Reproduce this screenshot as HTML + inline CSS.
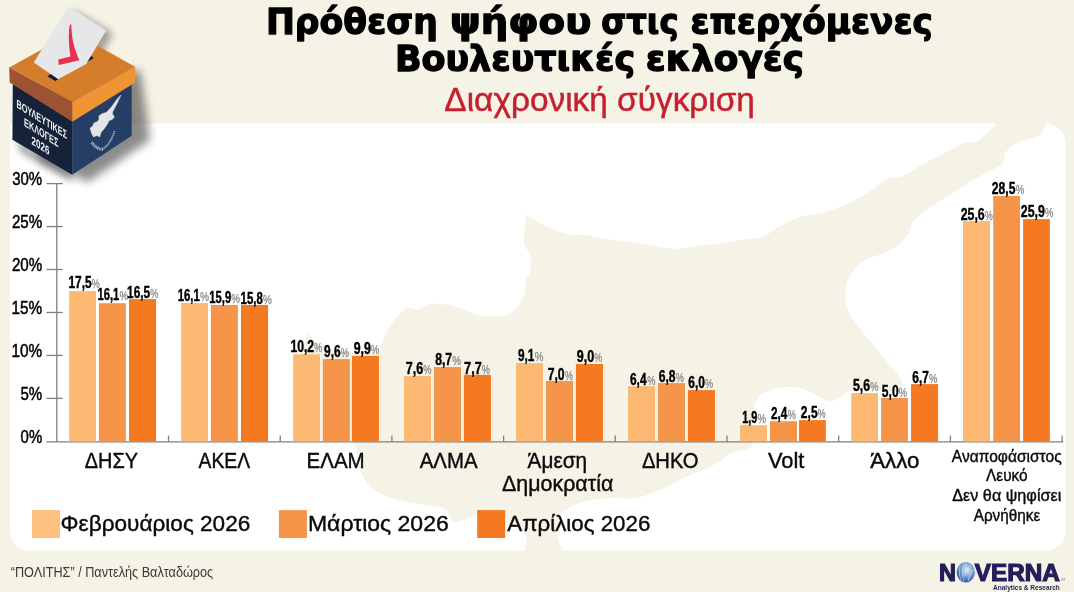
<!DOCTYPE html>
<html lang="el"><head><meta charset="utf-8"><title>Πρόθεση ψήφου στις επερχόμενες Βουλευτικές εκλογές</title>
<style>html,body{margin:0;padding:0;background:#f5f2e6;}body{width:1074px;height:592px;overflow:hidden;}svg{display:block;}</style></head><body>
<svg width="1074" height="592" viewBox="0 0 1074 592" font-family="'Liberation Sans', 'DejaVu Sans', sans-serif">
<defs>
<filter id="sh" x="-30%" y="-30%" width="160%" height="160%"><feGaussianBlur stdDeviation="5"/></filter>
<filter id="sh2" x="-30%" y="-30%" width="160%" height="160%"><feGaussianBlur stdDeviation="3.5"/></filter>
<radialGradient id="gl" cx="0.58" cy="0.38" r="0.66"><stop offset="0" stop-color="#e6eef8"/><stop offset="0.4" stop-color="#8fb0dc"/><stop offset="0.8" stop-color="#3f6db5"/><stop offset="1" stop-color="#1f4f9f"/></radialGradient>
</defs>
<rect width="1074" height="592" fill="#f5f2e6"/>
<path d="M10 123.6H1045.5a20 20 0 0 1 20 20V530.7a20 20 0 0 1 -20 20H30a20 20 0 0 1 -20 -20Z" fill="#fff"/>
<path d="M526.5 562.0 C520.2 558.3 526.9 545.0 526.5 540.0 C526.1 535.0 525.9 534.8 524.0 532.0 C522.1 529.2 519.8 525.5 515.0 523.0 C510.2 520.5 501.5 518.3 495.0 517.0 C488.5 515.7 480.2 515.2 476.0 515.3 C471.8 515.4 472.9 516.6 469.6 517.7 C466.3 518.8 459.1 521.8 456.0 522.0 C452.9 522.2 452.6 521.0 451.0 519.0 C449.4 517.0 448.9 512.3 446.5 510.2 C444.1 508.1 442.4 507.8 436.8 506.6 C431.2 505.4 420.7 504.6 412.6 503.0 C404.5 501.4 394.4 498.9 388.4 496.9 C382.3 494.9 380.3 493.8 376.3 490.8 C372.3 487.8 367.2 483.1 364.2 478.7 C361.2 474.3 360.0 470.2 358.2 464.2 C356.4 458.1 357.2 446.0 353.3 442.4 C349.4 438.8 340.9 443.2 335.0 442.5 C329.1 441.8 323.0 441.8 318.0 438.0 C313.0 434.2 308.3 428.0 305.0 420.0 C301.7 412.0 298.8 400.0 298.0 390.0 C297.2 380.0 298.9 368.0 300.0 360.0 C301.1 352.0 303.2 346.5 304.5 342.0 C305.8 337.5 307.5 333.0 307.5 333.0 C307.5 333.0 308.8 335.3 310.5 337.0 C312.2 338.7 314.8 341.0 318.0 343.0 C321.2 345.0 324.7 347.5 330.0 349.0 C335.3 350.5 343.7 351.8 350.0 352.0 C356.3 352.2 362.9 351.0 368.0 350.0 C373.1 349.0 377.5 348.4 380.3 346.0 C383.1 343.6 382.4 339.6 384.6 335.5 C386.8 331.4 390.2 325.7 393.4 321.3 C396.6 316.9 401.6 311.2 404.0 309.0 C406.4 306.8 405.0 307.7 407.5 307.8 C410.0 307.9 415.1 310.1 419.0 309.5 C422.9 308.9 426.2 304.8 431.0 304.0 C435.8 303.2 442.3 304.0 448.0 305.0 C453.7 306.0 460.5 308.5 465.0 310.0 C469.5 311.5 470.0 312.9 475.0 314.0 C480.0 315.1 489.3 316.6 495.0 316.6 C500.7 316.6 505.0 315.9 509.0 314.0 C513.0 312.1 516.3 309.2 519.0 305.5 C521.7 301.8 523.8 296.4 525.0 292.0 C526.2 287.6 525.4 282.3 526.4 279.0 C527.4 275.7 530.4 274.3 531.0 272.0 C531.6 269.7 529.9 267.6 530.0 265.0 C530.1 262.4 532.3 259.7 531.5 256.5 C530.7 253.3 526.2 248.8 525.0 246.0 C523.8 243.2 524.0 243.2 524.0 240.0 C524.0 236.8 524.6 231.2 525.0 227.0 C525.4 222.8 526.4 215.0 526.4 215.0 C526.4 215.0 537.1 221.6 542.6 224.4 C548.1 227.2 553.9 230.2 559.5 232.0 C565.1 233.8 572.1 234.5 576.4 235.0 C580.6 235.5 579.4 234.2 585.0 235.0 C590.6 235.8 600.2 238.1 610.0 239.6 C619.8 241.1 633.6 242.5 644.0 244.0 C654.4 245.5 663.3 248.4 672.6 248.7 C681.9 249.0 692.6 246.6 700.0 245.7 C707.4 244.8 709.8 244.4 717.0 243.4 C724.2 242.4 735.5 240.8 743.0 239.7 C750.5 238.6 756.3 238.9 762.0 237.0 C767.7 235.1 770.8 231.3 777.0 228.0 C783.2 224.7 790.3 220.2 799.0 217.4 C807.7 214.6 819.7 213.9 829.0 211.0 C838.3 208.1 847.7 203.7 855.0 200.0 C862.3 196.3 867.5 192.6 873.0 189.0 C878.5 185.4 883.0 180.9 888.0 178.7 C893.0 176.5 896.8 178.4 903.0 175.8 C909.2 173.2 917.0 167.3 925.0 163.0 C933.0 158.7 944.8 153.3 951.0 150.0 C957.2 146.7 958.2 144.8 962.5 143.4 C966.8 142.0 972.9 143.3 977.0 141.6 C981.1 139.9 983.8 135.8 987.0 133.0 C990.2 130.2 993.3 127.5 996.0 124.5 C998.7 121.5 993.7 116.6 1003.0 115.0 C1012.3 113.4 1044.8 113.4 1052.0 115.0 C1059.2 116.6 1048.2 121.2 1046.0 124.5 C1043.8 127.8 1044.2 131.8 1039.0 135.0 C1033.8 138.2 1020.7 140.9 1015.0 144.0 C1009.3 147.1 1006.9 150.3 1005.0 153.5 C1003.1 156.7 1004.9 160.6 1003.4 163.0 C1001.9 165.4 1000.9 165.2 996.0 168.0 C991.1 170.8 982.0 174.8 974.0 179.5 C966.0 184.2 956.7 190.4 948.0 196.0 C939.3 201.6 928.0 208.3 922.0 213.0 C916.0 217.7 914.2 220.7 912.0 224.0 C909.8 227.3 911.2 229.6 909.0 233.0 C906.8 236.4 903.1 241.2 899.0 244.5 C894.9 247.8 890.0 250.5 884.5 253.0 C879.0 255.5 870.9 256.8 866.0 259.4 C861.1 262.0 858.2 264.7 855.0 268.7 C851.8 272.7 848.1 278.7 846.5 283.6 C844.9 288.6 845.0 293.5 845.4 298.4 C845.8 303.3 847.4 309.1 849.0 313.0 C850.6 316.9 853.0 319.2 855.0 322.0 C857.0 324.8 858.1 326.6 860.8 330.0 C863.5 333.4 867.6 338.1 871.0 342.2 C874.4 346.2 877.6 350.1 881.0 354.3 C884.4 358.5 888.5 363.7 891.5 367.4 C894.5 371.1 897.1 373.3 899.0 376.4 C900.9 379.5 903.4 383.5 902.7 386.0 C902.0 388.5 898.8 390.8 895.0 391.5 C891.2 392.2 885.0 391.0 880.0 390.5 C875.0 390.0 869.8 388.7 865.0 388.5 C860.2 388.3 854.6 388.7 851.3 389.5 C848.0 390.3 847.5 392.0 845.3 393.5 C843.1 395.0 840.2 397.4 837.9 398.7 C835.5 399.9 833.4 400.9 831.2 401.0 C829.0 401.1 827.1 400.5 824.5 399.5 C821.9 398.5 818.5 396.5 815.5 395.0 C812.5 393.5 810.1 391.8 806.6 390.5 C803.1 389.2 798.7 387.8 794.7 387.3 C790.7 386.8 786.5 387.2 782.8 387.6 C779.1 388.0 775.3 389.1 772.3 389.8 C769.3 390.5 767.1 390.8 764.9 392.0 C762.7 393.2 760.6 395.1 758.9 397.2 C757.2 399.3 755.6 401.7 754.5 404.7 C753.4 407.7 752.9 410.8 752.5 415.0 C752.1 419.2 752.0 425.3 752.0 430.0 C752.0 434.7 753.1 440.4 752.7 443.3 C752.3 446.2 751.6 446.4 749.4 447.7 C747.2 449.0 743.0 449.9 739.5 451.0 C736.0 452.1 731.4 452.9 728.5 454.3 C725.6 455.8 725.1 457.6 722.0 459.7 C718.9 461.8 714.1 464.8 709.8 466.9 C705.5 469.0 700.9 470.6 696.4 472.5 C691.9 474.4 687.5 475.8 683.0 478.0 C678.5 480.2 673.7 483.8 669.6 485.9 C665.5 487.9 663.2 488.4 658.4 490.3 C653.6 492.2 645.4 495.7 640.6 497.0 C635.8 498.3 635.0 498.0 629.4 498.2 C623.8 498.4 614.5 497.6 607.0 498.2 C599.5 498.8 591.4 499.6 584.7 501.5 C578.0 503.4 571.1 506.3 566.8 509.3 C562.5 512.3 560.7 515.9 559.0 519.4 C557.3 522.9 556.8 526.9 556.8 530.6 C556.8 534.3 558.1 538.4 559.0 541.7 C559.9 545.1 561.5 547.3 562.3 550.7 C563.1 554.1 570.0 560.1 564.0 562.0 C558.0 563.9 532.8 565.7 526.5 562.0Z" fill="#f5f2e6"/>
<text x="265.94" y="34.15" font-size="35.80" font-family="'DejaVu Sans', 'Liberation Sans', sans-serif" font-weight="bold" textLength="171.90" lengthAdjust="spacingAndGlyphs" fill="#000" stroke="#000" stroke-width="1.30" stroke-linejoin="round">Πρόθεση</text>
<text x="450.03" y="34.15" font-size="35.80" font-family="'DejaVu Sans', 'Liberation Sans', sans-serif" font-weight="bold" textLength="141.27" lengthAdjust="spacingAndGlyphs" fill="#000" stroke="#000" stroke-width="1.30" stroke-linejoin="round">ψήφου</text>
<text x="601.16" y="34.15" font-size="35.80" font-family="'DejaVu Sans', 'Liberation Sans', sans-serif" font-weight="bold" textLength="77.42" lengthAdjust="spacingAndGlyphs" fill="#000" stroke="#000" stroke-width="1.30" stroke-linejoin="round">στις</text>
<text x="690.54" y="34.15" font-size="35.80" font-family="'DejaVu Sans', 'Liberation Sans', sans-serif" font-weight="bold" textLength="242.26" lengthAdjust="spacingAndGlyphs" fill="#000" stroke="#000" stroke-width="1.30" stroke-linejoin="round">επερχόμενες</text>
<text x="394.91" y="71.15" font-size="35.80" font-family="'DejaVu Sans', 'Liberation Sans', sans-serif" font-weight="bold" textLength="240.24" lengthAdjust="spacingAndGlyphs" fill="#000" stroke="#000" stroke-width="1.30" stroke-linejoin="round">Βουλευτικές</text>
<text x="645.86" y="71.15" font-size="35.80" font-family="'DejaVu Sans', 'Liberation Sans', sans-serif" font-weight="bold" textLength="158.03" lengthAdjust="spacingAndGlyphs" fill="#000" stroke="#000" stroke-width="1.30" stroke-linejoin="round">εκλογές</text>
<text x="444.36" y="111.00" font-size="32.60" textLength="310.59" lengthAdjust="spacingAndGlyphs" fill="#c4202f" stroke="#c4202f" stroke-width="0.45">Διαχρονική σύγκριση</text>
<g stroke="#7f7f7f" stroke-width="1.3" fill="none">
<path d="M56.8 183.6V441.9"/>
<path d="M46.5 441.9H1063.3"/>
<path d="M46.5 398.39H62.7"/>
<path d="M46.5 355.43H62.7"/>
<path d="M46.5 312.48H62.7"/>
<path d="M46.5 269.52H62.7"/>
<path d="M46.5 226.56H62.7"/>
<path d="M46.5 183.60H62.7"/>
<path d="M168.5 435.6V441.9"/>
<path d="M280.2 435.6V441.9"/>
<path d="M391.9 435.6V441.9"/>
<path d="M503.6 435.6V441.9"/>
<path d="M615.3 435.6V441.9"/>
<path d="M727.0 435.6V441.9"/>
<path d="M838.7 435.6V441.9"/>
<path d="M950.4 435.6V441.9"/>
<path d="M1062.1 435.6V441.9"/>
</g>
<text x="20.60" y="443.35" font-size="18.00" textLength="21.58" lengthAdjust="spacingAndGlyphs" fill="#000" stroke="#000" stroke-width="0.50">0%</text>
<text x="20.45" y="399.99" font-size="18.00" textLength="21.74" lengthAdjust="spacingAndGlyphs" fill="#000" stroke="#000" stroke-width="0.50">5%</text>
<text x="11.58" y="357.03" font-size="18.00" textLength="30.62" lengthAdjust="spacingAndGlyphs" fill="#000" stroke="#000" stroke-width="0.50">10%</text>
<text x="11.58" y="314.08" font-size="18.00" textLength="30.62" lengthAdjust="spacingAndGlyphs" fill="#000" stroke="#000" stroke-width="0.50">15%</text>
<text x="11.89" y="271.12" font-size="18.00" textLength="30.30" lengthAdjust="spacingAndGlyphs" fill="#000" stroke="#000" stroke-width="0.50">20%</text>
<text x="11.89" y="228.16" font-size="18.00" textLength="30.30" lengthAdjust="spacingAndGlyphs" fill="#000" stroke="#000" stroke-width="0.50">25%</text>
<text x="12.20" y="185.20" font-size="18.00" textLength="29.99" lengthAdjust="spacingAndGlyphs" fill="#000" stroke="#000" stroke-width="0.50">30%</text>
<rect x="69.20" y="291.10" width="26.80" height="150.25" fill="#fbb974"/>
<rect x="98.90" y="303.20" width="27.00" height="138.15" fill="#f6944a"/>
<rect x="129.05" y="299.10" width="27.05" height="142.25" fill="#f47920"/>
<rect x="181.20" y="303.00" width="26.80" height="138.35" fill="#fbb974"/>
<rect x="210.90" y="305.00" width="27.00" height="136.35" fill="#f6944a"/>
<rect x="241.00" y="305.00" width="27.10" height="136.35" fill="#f47920"/>
<rect x="293.20" y="354.30" width="26.80" height="87.05" fill="#fbb974"/>
<rect x="322.90" y="359.10" width="27.00" height="82.25" fill="#f6944a"/>
<rect x="351.90" y="355.90" width="27.10" height="85.45" fill="#f47920"/>
<rect x="404.00" y="376.10" width="27.00" height="65.25" fill="#fbb974"/>
<rect x="434.00" y="367.10" width="27.00" height="74.25" fill="#f6944a"/>
<rect x="463.90" y="374.90" width="27.10" height="66.45" fill="#f47920"/>
<rect x="516.00" y="363.10" width="27.00" height="78.25" fill="#fbb974"/>
<rect x="546.00" y="381.00" width="27.00" height="60.35" fill="#f6944a"/>
<rect x="575.90" y="364.00" width="27.10" height="77.35" fill="#f47920"/>
<rect x="628.00" y="386.20" width="27.00" height="55.15" fill="#fbb974"/>
<rect x="658.00" y="383.10" width="27.00" height="58.25" fill="#f6944a"/>
<rect x="687.90" y="390.10" width="27.10" height="51.25" fill="#f47920"/>
<rect x="740.00" y="425.20" width="27.00" height="16.15" fill="#fbb974"/>
<rect x="770.00" y="421.20" width="27.00" height="20.15" fill="#f6944a"/>
<rect x="799.00" y="420.10" width="26.90" height="21.25" fill="#f47920"/>
<rect x="851.20" y="393.10" width="26.80" height="48.25" fill="#fbb974"/>
<rect x="881.10" y="398.00" width="26.80" height="43.35" fill="#f6944a"/>
<rect x="911.05" y="384.10" width="27.05" height="57.25" fill="#f47920"/>
<rect x="963.00" y="221.10" width="27.00" height="220.25" fill="#fbb974"/>
<rect x="993.20" y="196.00" width="26.80" height="245.35" fill="#f6944a"/>
<rect x="1023.10" y="219.10" width="26.80" height="222.25" fill="#f47920"/>
<text x="68.41" y="288.10" font-size="16.90" font-weight="bold" textLength="23.18" lengthAdjust="spacingAndGlyphs" fill="#000" stroke="#000" stroke-width="0.45">17,5</text>
<text x="91.86" y="288.10" font-size="13.00" textLength="7.98" lengthAdjust="spacingAndGlyphs" fill="#858585" stroke="#858585" stroke-width="0.25">%</text>
<text x="97.56" y="300.40" font-size="16.90" font-weight="bold" textLength="21.71" lengthAdjust="spacingAndGlyphs" fill="#000" stroke="#000" stroke-width="0.45">16,1</text>
<text x="119.54" y="300.40" font-size="13.00" textLength="8.52" lengthAdjust="spacingAndGlyphs" fill="#858585" stroke="#858585" stroke-width="0.25">%</text>
<text x="127.12" y="297.90" font-size="16.90" font-weight="bold" textLength="22.86" lengthAdjust="spacingAndGlyphs" fill="#000" stroke="#000" stroke-width="0.45">16,5</text>
<text x="150.25" y="297.90" font-size="13.00" textLength="8.20" lengthAdjust="spacingAndGlyphs" fill="#858585" stroke="#858585" stroke-width="0.25">%</text>
<text x="177.64" y="300.90" font-size="16.90" font-weight="bold" textLength="22.13" lengthAdjust="spacingAndGlyphs" fill="#000" stroke="#000" stroke-width="0.45">16,1</text>
<text x="200.02" y="300.90" font-size="13.00" textLength="9.05" lengthAdjust="spacingAndGlyphs" fill="#858585" stroke="#858585" stroke-width="0.25">%</text>
<text x="209.35" y="302.80" font-size="16.90" font-weight="bold" textLength="21.83" lengthAdjust="spacingAndGlyphs" fill="#000" stroke="#000" stroke-width="0.45">15,9</text>
<text x="231.33" y="302.80" font-size="13.00" textLength="8.73" lengthAdjust="spacingAndGlyphs" fill="#858585" stroke="#858585" stroke-width="0.25">%</text>
<text x="240.54" y="303.70" font-size="16.90" font-weight="bold" textLength="22.23" lengthAdjust="spacingAndGlyphs" fill="#000" stroke="#000" stroke-width="0.45">15,8</text>
<text x="263.03" y="303.70" font-size="13.00" textLength="8.84" lengthAdjust="spacingAndGlyphs" fill="#858585" stroke="#858585" stroke-width="0.25">%</text>
<text x="290.39" y="351.70" font-size="16.90" font-weight="bold" textLength="23.72" lengthAdjust="spacingAndGlyphs" fill="#000" stroke="#000" stroke-width="0.45">10,2</text>
<text x="314.26" y="351.70" font-size="13.00" textLength="7.87" lengthAdjust="spacingAndGlyphs" fill="#858585" stroke="#858585" stroke-width="0.25">%</text>
<text x="324.07" y="356.80" font-size="16.90" font-weight="bold" textLength="16.54" lengthAdjust="spacingAndGlyphs" fill="#000" stroke="#000" stroke-width="0.45">9,6</text>
<text x="340.75" y="356.80" font-size="13.00" textLength="8.20" lengthAdjust="spacingAndGlyphs" fill="#858585" stroke="#858585" stroke-width="0.25">%</text>
<text x="353.65" y="353.90" font-size="16.90" font-weight="bold" textLength="17.17" lengthAdjust="spacingAndGlyphs" fill="#000" stroke="#000" stroke-width="0.45">9,9</text>
<text x="370.95" y="353.90" font-size="13.00" textLength="8.20" lengthAdjust="spacingAndGlyphs" fill="#858585" stroke="#858585" stroke-width="0.25">%</text>
<text x="405.82" y="373.50" font-size="16.90" font-weight="bold" textLength="17.40" lengthAdjust="spacingAndGlyphs" fill="#000" stroke="#000" stroke-width="0.45">7,6</text>
<text x="423.34" y="373.50" font-size="13.00" textLength="8.30" lengthAdjust="spacingAndGlyphs" fill="#858585" stroke="#858585" stroke-width="0.25">%</text>
<text x="435.16" y="364.60" font-size="16.90" font-weight="bold" textLength="16.96" lengthAdjust="spacingAndGlyphs" fill="#000" stroke="#000" stroke-width="0.45">8,7</text>
<text x="452.23" y="364.60" font-size="13.00" textLength="8.73" lengthAdjust="spacingAndGlyphs" fill="#858585" stroke="#858585" stroke-width="0.25">%</text>
<text x="464.12" y="373.50" font-size="16.90" font-weight="bold" textLength="17.61" lengthAdjust="spacingAndGlyphs" fill="#000" stroke="#000" stroke-width="0.45">7,7</text>
<text x="481.85" y="373.50" font-size="13.00" textLength="8.20" lengthAdjust="spacingAndGlyphs" fill="#858585" stroke="#858585" stroke-width="0.25">%</text>
<text x="517.97" y="360.70" font-size="16.90" font-weight="bold" textLength="16.41" lengthAdjust="spacingAndGlyphs" fill="#000" stroke="#000" stroke-width="0.45">9,1</text>
<text x="534.63" y="360.70" font-size="13.00" textLength="8.73" lengthAdjust="spacingAndGlyphs" fill="#858585" stroke="#858585" stroke-width="0.25">%</text>
<text x="547.74" y="379.90" font-size="16.90" font-weight="bold" textLength="16.87" lengthAdjust="spacingAndGlyphs" fill="#000" stroke="#000" stroke-width="0.45">7,0</text>
<text x="564.75" y="379.90" font-size="13.00" textLength="8.20" lengthAdjust="spacingAndGlyphs" fill="#858585" stroke="#858585" stroke-width="0.25">%</text>
<text x="576.85" y="362.40" font-size="16.90" font-weight="bold" textLength="17.38" lengthAdjust="spacingAndGlyphs" fill="#000" stroke="#000" stroke-width="0.45">9,0</text>
<text x="594.36" y="362.40" font-size="13.00" textLength="7.87" lengthAdjust="spacingAndGlyphs" fill="#858585" stroke="#858585" stroke-width="0.25">%</text>
<text x="629.97" y="384.80" font-size="16.90" font-weight="bold" textLength="16.56" lengthAdjust="spacingAndGlyphs" fill="#000" stroke="#000" stroke-width="0.45">6,4</text>
<text x="647.15" y="384.80" font-size="13.00" textLength="8.20" lengthAdjust="spacingAndGlyphs" fill="#858585" stroke="#858585" stroke-width="0.25">%</text>
<text x="658.76" y="381.70" font-size="16.90" font-weight="bold" textLength="16.83" lengthAdjust="spacingAndGlyphs" fill="#000" stroke="#000" stroke-width="0.45">6,8</text>
<text x="675.85" y="381.70" font-size="13.00" textLength="8.20" lengthAdjust="spacingAndGlyphs" fill="#858585" stroke="#858585" stroke-width="0.25">%</text>
<text x="688.27" y="388.40" font-size="16.90" font-weight="bold" textLength="16.64" lengthAdjust="spacingAndGlyphs" fill="#000" stroke="#000" stroke-width="0.45">6,0</text>
<text x="705.05" y="388.40" font-size="13.00" textLength="8.09" lengthAdjust="spacingAndGlyphs" fill="#858585" stroke="#858585" stroke-width="0.25">%</text>
<text x="742.17" y="423.10" font-size="16.90" font-weight="bold" textLength="15.09" lengthAdjust="spacingAndGlyphs" fill="#000" stroke="#000" stroke-width="0.45">1,9</text>
<text x="757.43" y="423.10" font-size="13.00" textLength="8.62" lengthAdjust="spacingAndGlyphs" fill="#858585" stroke="#858585" stroke-width="0.25">%</text>
<text x="770.97" y="418.70" font-size="16.90" font-weight="bold" textLength="16.26" lengthAdjust="spacingAndGlyphs" fill="#000" stroke="#000" stroke-width="0.45">2,4</text>
<text x="787.85" y="418.70" font-size="13.00" textLength="8.20" lengthAdjust="spacingAndGlyphs" fill="#858585" stroke="#858585" stroke-width="0.25">%</text>
<text x="800.86" y="418.10" font-size="16.90" font-weight="bold" textLength="16.73" lengthAdjust="spacingAndGlyphs" fill="#000" stroke="#000" stroke-width="0.45">2,5</text>
<text x="817.86" y="418.10" font-size="13.00" textLength="7.87" lengthAdjust="spacingAndGlyphs" fill="#858585" stroke="#858585" stroke-width="0.25">%</text>
<text x="853.06" y="391.30" font-size="16.90" font-weight="bold" textLength="17.06" lengthAdjust="spacingAndGlyphs" fill="#000" stroke="#000" stroke-width="0.45">5,6</text>
<text x="870.25" y="391.30" font-size="13.00" textLength="8.20" lengthAdjust="spacingAndGlyphs" fill="#858585" stroke="#858585" stroke-width="0.25">%</text>
<text x="881.86" y="396.60" font-size="16.90" font-weight="bold" textLength="16.75" lengthAdjust="spacingAndGlyphs" fill="#000" stroke="#000" stroke-width="0.45">5,0</text>
<text x="898.75" y="396.60" font-size="13.00" textLength="8.20" lengthAdjust="spacingAndGlyphs" fill="#858585" stroke="#858585" stroke-width="0.25">%</text>
<text x="912.27" y="382.70" font-size="16.90" font-weight="bold" textLength="16.54" lengthAdjust="spacingAndGlyphs" fill="#000" stroke="#000" stroke-width="0.45">6,7</text>
<text x="928.94" y="382.70" font-size="13.00" textLength="8.41" lengthAdjust="spacingAndGlyphs" fill="#858585" stroke="#858585" stroke-width="0.25">%</text>
<text x="960.76" y="219.70" font-size="16.90" font-weight="bold" textLength="23.96" lengthAdjust="spacingAndGlyphs" fill="#000" stroke="#000" stroke-width="0.45">25,6</text>
<text x="984.85" y="219.70" font-size="13.00" textLength="8.09" lengthAdjust="spacingAndGlyphs" fill="#858585" stroke="#858585" stroke-width="0.25">%</text>
<text x="991.86" y="193.60" font-size="16.90" font-weight="bold" textLength="23.63" lengthAdjust="spacingAndGlyphs" fill="#000" stroke="#000" stroke-width="0.45">28,5</text>
<text x="1015.73" y="193.60" font-size="13.00" textLength="8.62" lengthAdjust="spacingAndGlyphs" fill="#858585" stroke="#858585" stroke-width="0.25">%</text>
<text x="1020.75" y="216.70" font-size="16.90" font-weight="bold" textLength="24.07" lengthAdjust="spacingAndGlyphs" fill="#000" stroke="#000" stroke-width="0.45">25,9</text>
<text x="1044.94" y="216.70" font-size="13.00" textLength="8.30" lengthAdjust="spacingAndGlyphs" fill="#858585" stroke="#858585" stroke-width="0.25">%</text>
<text x="84.80" y="467.90" font-size="21.50" textLength="53.24" lengthAdjust="spacingAndGlyphs" fill="#0a0a0a" stroke="#0a0a0a" stroke-width="0.40">ΔΗΣΥ</text>
<text x="198.60" y="467.90" font-size="21.50" textLength="51.56" lengthAdjust="spacingAndGlyphs" fill="#0a0a0a" stroke="#0a0a0a" stroke-width="0.40">ΑΚΕΛ</text>
<text x="306.56" y="467.90" font-size="21.50" textLength="58.14" lengthAdjust="spacingAndGlyphs" fill="#0a0a0a" stroke="#0a0a0a" stroke-width="0.40">ΕΛΑΜ</text>
<text x="419.70" y="467.90" font-size="21.50" textLength="57.84" lengthAdjust="spacingAndGlyphs" fill="#0a0a0a" stroke="#0a0a0a" stroke-width="0.40">ΑΛΜΑ</text>
<text x="527.60" y="467.90" font-size="21.50" textLength="59.47" lengthAdjust="spacingAndGlyphs" fill="#0a0a0a" stroke="#0a0a0a" stroke-width="0.40">Άμεση</text>
<text x="502.07" y="491.30" font-size="21.50" textLength="111.23" lengthAdjust="spacingAndGlyphs" fill="#0a0a0a" stroke="#0a0a0a" stroke-width="0.40">Δημοκρατία</text>
<text x="641.90" y="467.90" font-size="21.50" textLength="56.57" lengthAdjust="spacingAndGlyphs" fill="#0a0a0a" stroke="#0a0a0a" stroke-width="0.40">ΔΗΚΟ</text>
<text x="768.00" y="467.90" font-size="21.50" textLength="36.45" lengthAdjust="spacingAndGlyphs" fill="#0a0a0a" stroke="#0a0a0a" stroke-width="0.40">Volt</text>
<text x="870.20" y="467.90" font-size="21.50" textLength="49.10" lengthAdjust="spacingAndGlyphs" fill="#0a0a0a" stroke="#0a0a0a" stroke-width="0.40">Άλλο</text>
<text x="951.80" y="462.10" font-size="17.20" textLength="109.84" lengthAdjust="spacingAndGlyphs" fill="#0a0a0a" stroke="#0a0a0a" stroke-width="0.40">Αναποφάσιστος</text>
<text x="986.10" y="481.40" font-size="17.20" textLength="41.45" lengthAdjust="spacingAndGlyphs" fill="#0a0a0a" stroke="#0a0a0a" stroke-width="0.40">Λευκό</text>
<text x="952.18" y="500.90" font-size="17.20" textLength="109.18" lengthAdjust="spacingAndGlyphs" fill="#0a0a0a" stroke="#0a0a0a" stroke-width="0.40">Δεν θα ψηφίσει</text>
<text x="973.70" y="520.70" font-size="17.20" textLength="66.64" lengthAdjust="spacingAndGlyphs" fill="#0a0a0a" stroke="#0a0a0a" stroke-width="0.40">Αρνήθηκε</text>
<rect x="32.0" y="510.1" width="28" height="27.9" fill="#fdc081"/>
<text x="60.57" y="530.90" font-size="22.00" textLength="189.75" lengthAdjust="spacingAndGlyphs" fill="#0a0a0a" stroke="#0a0a0a" stroke-width="0.40">Φεβρουάριος 2026</text>
<rect x="278.9" y="510.1" width="28" height="27.9" fill="#f6944a"/>
<text x="307.96" y="530.90" font-size="22.00" textLength="140.77" lengthAdjust="spacingAndGlyphs" fill="#0a0a0a" stroke="#0a0a0a" stroke-width="0.40">Μάρτιος 2026</text>
<rect x="477.2" y="510.1" width="28" height="27.9" fill="#f47920"/>
<text x="507.30" y="530.90" font-size="22.00" textLength="143.01" lengthAdjust="spacingAndGlyphs" fill="#0a0a0a" stroke="#0a0a0a" stroke-width="0.40">Απρίλιος 2026</text>
<text x="10.72" y="576.80" font-size="13.90" textLength="202.46" lengthAdjust="spacingAndGlyphs" fill="#3a3a3a">“ΠΟΛΙΤΗΣ” / Παντελής Βαλταδώρος</text>
<text x="938.99" y="580.80" font-size="23.50" font-weight="bold" textLength="16.97" lengthAdjust="spacingAndGlyphs" fill="#231f5c" stroke="#231f5c" stroke-width="1.20">N</text>
<text x="974.80" y="580.80" font-size="23.50" font-weight="bold" textLength="84.94" lengthAdjust="spacingAndGlyphs" fill="#231f5c" stroke="#231f5c" stroke-width="1.20">VERNA</text>
<text x="992.97" y="589.60" font-size="6.60" font-weight="bold" textLength="66.83" lengthAdjust="spacingAndGlyphs" fill="#231f5c">Analytics &amp; Research</text>
<text x="1060.6" y="580.6" font-size="3.2" fill="#7a7a90">TM</text>
<ellipse cx="965.8" cy="572.3" rx="9.1" ry="10.3" fill="url(#gl)"/>
<g stroke="#eaf1fa" stroke-width="0.7" fill="none" opacity="0.75"><path d="M960.3 565C958.6 570 959.2 576 961.2 580.5"/><path d="M963.6 562.6C962.2 568 962.3 576 963.6 581.8"/><path d="M966 562.3C964.8 567 964.8 572 965.4 576"/><path d="M973.8 569.5C971 572 969 576 968.3 581"/></g>
<g>
<path d="M30 90L140 70L150 140L88 182L40 160Z" fill="#000" opacity="0.45" filter="url(#sh)"/>
<path d="M74 10L113 33L97 64L64 60Z" fill="#000" opacity="0.33" filter="url(#sh2)"/>
<path d="M16 138L72 172L72 182L20 152Z" fill="#000" opacity="0.35" filter="url(#sh2)"/>
<path d="M12.8 84L72.3 118V174.8L12.4 139.8Z" fill="#16213a"/>
<path d="M72.3 118L131.7 83.7V135.7L72.3 174.8Z" fill="#243e66"/>
<path d="M9.2 67.6L73.4 32L135.3 66.9L72.3 102Z" fill="#d57d2a"/>
<path d="M9.2 67.6L72.3 102V121.8L9.7 82.4Z" fill="#9c5233"/>
<path d="M72.3 102L135.3 66.9L135.1 82.5L72.3 121.8Z" fill="#f09433"/>
<path d="M47.3 76.3L86.5 53L93.9 57.9L55.3 81.1Z" fill="#131c33"/>
<path d="M68.4 5.9L106.1 30.4L86.2 63.9L58.3 79.3L33.8 62.6Z" fill="#e6e7e8"/>
<path d="M71.3 24.3C71.4 30 72 36 72.7 40C73.6 45 76 53 79.5 60.3L58.7 64.9L58.3 59.6L70.5 56.5C69.6 51 69 45 68.9 40C68.8 34 69 29 69.7 25Z" fill="#e8304f"/>
<g transform="matrix(1 0.63 0 1 0 0)" fill="#eef0f2" font-weight="bold" text-anchor="middle">
<text x="41.8" y="96.9" font-size="11.9" textLength="50.5" lengthAdjust="spacingAndGlyphs">ΒΟΥΛΕΥΤΙΚΕΣ</text>
<text x="41.2" y="110.6" font-size="11.9" textLength="34.3" lengthAdjust="spacingAndGlyphs">ΕΚΛΟΓΕΣ</text>
<text x="40.5" y="124.1" font-size="11.9" textLength="17.8" lengthAdjust="spacingAndGlyphs">2026</text>
</g>
<path d="M120.9 95.1L116.8 104.0L113.0 111.0L112.4 113.5L114.3 117.3L111.8 119.8L109.2 120.4L107.3 124.2L104.2 128.7L101.0 132.5L99.7 136.9L97.2 135.6L93.4 136.9L91.5 133.1L90.0 128.0L92.2 126.8L94.0 123.0L97.2 121.7L99.1 119.2L98.9 116.0L101.6 113.9L106.7 112.2L111.8 106.5L116.8 99.6Z" fill="#e3e5e8" stroke="#e3e5e8" stroke-width="0.5" stroke-linejoin="round"/>
<path d="M91.8 142.4C94.5 146.5 98.5 149.3 103.2 149.4" stroke="#c9cfd9" stroke-width="3" stroke-dasharray="1 0.6" fill="none" opacity="0.85"/>
<path d="M103.5 148.6C108.5 145 112.6 138 114.8 130.6" stroke="#c9cfd9" stroke-width="1.9" stroke-dasharray="1.1 0.7" fill="none" opacity="0.85"/>
</g>
</svg></body></html>
